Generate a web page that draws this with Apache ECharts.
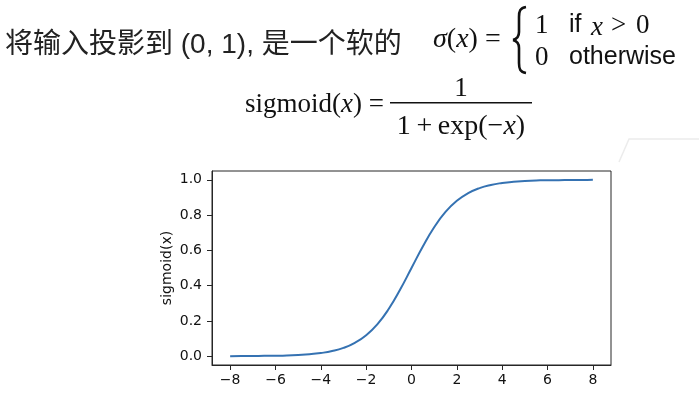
<!DOCTYPE html>
<html>
<head>
<meta charset="utf-8">
<script src="https://cdn.jsdelivr.net/npm/echarts@6/dist/echarts.min.js"></script>
<style>html,body{margin:0;padding:0;background:#fff;}#c{width:699px;height:395px;}</style>
</head>
<body>
<div id="c"></div>
<script>
// Values
const xValues = [-8,-7.5,-7,-6.5,-6,-5.5,-5,-4.5,-4,-3.5,-3,-2.5,-2,-1.5,-1,-0.5,0,0.5,1,1.5,2,2.5,3,3.5,4,4.5,5,5.5,6,6.5,7,7.5,8];
const sigmoidValues = [0.000,0.001,0.001,0.002,0.002,0.004,0.007,0.011,0.018,0.029,0.047,0.076,0.119,0.182,0.269,0.378,0.500,0.622,0.731,0.818,0.881,0.924,0.953,0.971,0.982,0.989,0.993,0.996,0.998,0.998,0.999,0.999,1.000];
const xTicks = [-8,-6,-4,-2,0,2,4,6,8];
const yTicks = [0.0,0.2,0.4,0.6,0.8,1.0];
const yAxisTitle = 'sigmoid(x)';

const SERIF = '"Liberation Serif","DejaVu Serif",serif';
const SANS = '"Liberation Sans","Noto Sans CJK SC",sans-serif';

const chart = echarts.init(document.getElementById('c'), null, {renderer:'canvas'});
const data = xValues.map((x,i)=>[x, sigmoidValues[i]]);

function txt(text, x, y, font, extra) {
  return {type:'text', silent:true, style: Object.assign({text, x, y, font, fill:'#111', align:'left', verticalAlign:'middle'}, extra||{})};
}
function bez(x1,y1,cx1,cy1,cx2,cy2,x2,y2){
  return {type:'bezierCurve', silent:true, shape:{x1,y1,cpx1:cx1,cpy1:cy1,cpx2:cx2,cpy2:cy2,x2,y2}, style:{stroke:'#111', lineWidth:2.6, fill:null}};
}
function seg(x1,y1,x2,y2){
  return {type:'line', silent:true, shape:{x1,y1,x2,y2}, style:{stroke:'#111', lineWidth:2.6}};
}

chart.setOption({
  animation:false,
  backgroundColor:'#fff',
  grid:{left:212, top:171, right:88, bottom:30, show:true, borderColor:'#262626', borderWidth:1, backgroundColor:'transparent'},
  xAxis:{
    type:'value', min:-8.8, max:8.8,
    axisLine:{show:true, onZero:false, lineStyle:{color:'#262626', width:1}},
    axisTick:{show:true, length:5, inside:false, customValues:xTicks, lineStyle:{color:'#262626'}},
    axisLabel:{show:true, margin:8, customValues:xTicks, color:'#111', fontSize:14, fontFamily:'"DejaVu Sans",sans-serif',
      formatter:v=> v<0 ? '\u2212'+Math.abs(v) : String(v)},
    splitLine:{show:false}
  },
  yAxis:{
    type:'value', min:-0.05, max:1.05,
    name:yAxisTitle, nameLocation:'middle', nameGap:38, nameRotate:90, nameMoveOverlap:false,
    nameTextStyle:{color:'#111', fontSize:14, fontFamily:'"DejaVu Sans",sans-serif'},
    axisLine:{show:true, onZero:false, lineStyle:{color:'#262626', width:1}},
    axisTick:{show:true, length:5, inside:false, customValues:yTicks, lineStyle:{color:'#262626'}},
    axisLabel:{show:true, margin:10, customValues:yTicks, color:'#111', fontSize:14, fontFamily:'"DejaVu Sans",sans-serif',
      formatter:v=> v.toFixed(1)},
    splitLine:{show:false}
  },
  series:[{
    type:'line', data, smooth:true, showSymbol:false, symbol:'none',
    lineStyle:{color:'#3572b2', width:2}, silent:true
  }],
  graphic:[
    txt('将输入投影到 (0, 1), 是一个软的', 5, 45, '28px '+SANS, {fill:'#222'}),
    {type:'text', silent:true, style:{x:433, y:40, align:'left', verticalAlign:'middle',
      text:'{i|σ}{r|(}{i|x}{r|) =}',
      rich:{i:{fontFamily:SERIF, fontStyle:'italic', fontSize:28, fill:'#111'}, r:{fontFamily:SERIF, fontSize:28, fill:'#111'}}}},
    bez(526,7, 520,8, 519,11, 519,17),
    seg(519,17,519,32),
    bez(519,32, 519,37, 517,39, 513,40),
    bez(513,40, 517,41, 519,43, 519,48),
    seg(519,48,519,63),
    bez(519,63, 519,69, 520,72, 526,73),
    txt('1', 535, 26, '27px '+SERIF),
    txt('if', 569, 25, '25px '+SANS),
    txt('x', 591, 28, 'italic 27px '+SERIF),
    txt('>', 611, 26, '27px '+SERIF),
    txt('0', 636, 26, '27px '+SERIF),
    txt('0', 535, 58, '27px '+SERIF),
    txt('otherwise', 569, 57, '25px '+SANS),
    {type:'text', silent:true, style:{x:245, y:105, align:'left', verticalAlign:'middle',
      text:'{r|sigmoid(}{i|x}{r|) =}',
      rich:{i:{fontFamily:SERIF, fontStyle:'italic', fontSize:27, fill:'#111'}, r:{fontFamily:SERIF, fontSize:27, fill:'#111'}}}},
    {type:'rect', silent:true, shape:{x:390, y:102, width:142, height:1.6}, style:{fill:'#111'}},
    txt('1', 461, 89, '27px '+SERIF, {align:'center'}),
    {type:'text', silent:true, style:{x:461, y:127, align:'center', verticalAlign:'middle',
      text:'{r|1\u2009+\u2009exp(\u2212}{i|x}{r|)}',
      rich:{i:{fontFamily:SERIF, fontStyle:'italic', fontSize:28, fill:'#111'}, r:{fontFamily:SERIF, fontSize:28, fill:'#111'}}}},
    {type:'polyline', silent:true, shape:{points:[[619,162],[629,139],[699,139]]}, style:{stroke:'#ececec', lineWidth:1.5, fill:null}}
  ]
});
</script>
</body>
</html>
